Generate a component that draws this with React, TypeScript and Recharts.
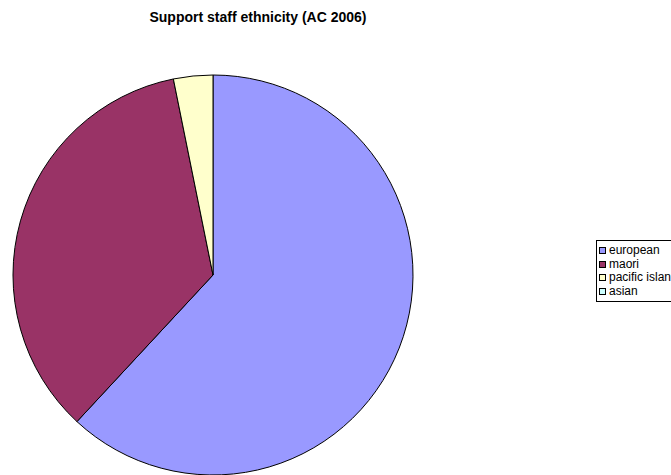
import { PieChart, Pie, Cell, Legend } from 'recharts';

const categories = ['european', 'maori', 'pacific islander', 'asian'];
const staffCounts = [39, 22, 2, 0];
const sliceColors = ['#9999FF', '#993366', '#FFFFCC', '#CCFFFF'];

const data = categories.map((name, i) => ({ name, value: staffCounts[i] }));

// legend keeps the series order instead of Recharts' default sort
const renderLegend = () => (
  <div
    style={{
      border: '1px solid #000',
      background: '#fff',
      padding: '3px 4px 3px 2px',
      width: 100,
      fontFamily: '"Liberation Sans", Arial, sans-serif',
      fontSize: 12,
      lineHeight: '13.5px',
      color: '#000',
      boxSizing: 'border-box',
    }}
  >
    {categories.map((name, i) => (
      <div key={name} style={{ display: 'flex', alignItems: 'center', whiteSpace: 'nowrap' }}>
        <span
          style={{
            display: 'inline-block',
            flexShrink: 0,
            width: 5,
            height: 5,
            border: '1px solid #000',
            background: sliceColors[i],
            marginRight: 3,
          }}
        />
        {name}
      </div>
    ))}
  </div>
);

export default function App() {
  return (
    <div style={{ position: 'absolute', left: 0, top: 0, width: 671, height: 475, overflow: 'hidden', background: '#fff' }}>
      <div
        style={{
          position: 'absolute',
          top: 9,
          left: 0,
          width: 516,
          textAlign: 'center',
          fontFamily: '"Liberation Sans", Arial, sans-serif',
          fontWeight: 'bold',
          fontSize: 14,
          color: '#000',
        }}
      >
        Support staff ethnicity (AC 2006)
      </div>
      <PieChart width={671} height={475} style={{ overflow: 'visible' }}>
        <Pie
          data={data}
          dataKey="value"
          nameKey="name"
          cx={208}
          cy={270}
          outerRadius={200}
          startAngle={90}
          endAngle={-270}
          stroke="#000"
          strokeWidth={1}
          isAnimationActive={false}
        >
          {data.map((d, i) => (
            <Cell key={d.name} fill={sliceColors[i]} />
          ))}
        </Pie>
        <Legend
          content={renderLegend}
          wrapperStyle={{ position: 'absolute', left: 596, top: 240, width: 100 }}
        />
      </PieChart>
    </div>
  );
}
